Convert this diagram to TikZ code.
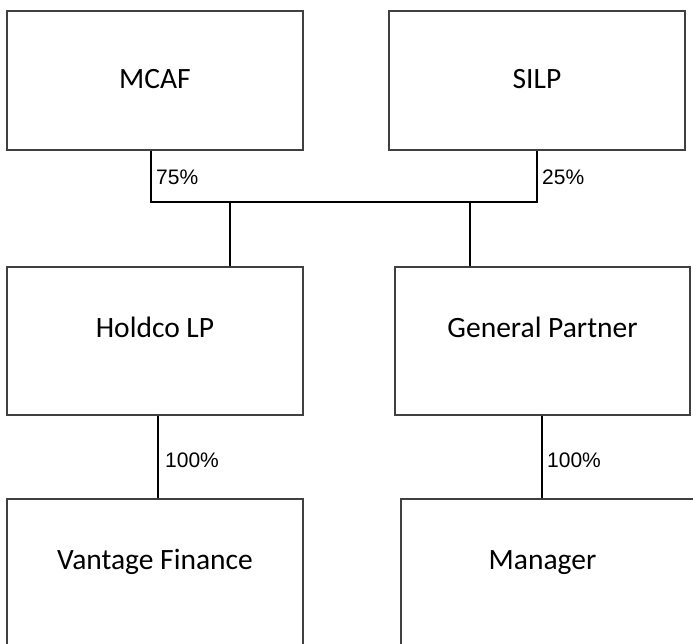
\documentclass[tikz,border=0pt]{standalone}
\usepackage{fontspec}
\setmainfont{Carlito}
\newfontfamily\pctfont{Liberation Sans}
\begin{document}
\begin{tikzpicture}[x=1pt,y=-1pt,
  orgbox/.style={draw=black!75, line width=1.3pt, inner sep=0pt, fill=white},
  boxtext/.style={font=\fontsize{29.5}{31}\selectfont, anchor=base, inner sep=0pt},
  pct/.style={font=\pctfont\fontsize{21}{23}\selectfont, anchor=west, inner sep=1pt},
  link/.style={draw=black, line width=1.5pt}]
\useasboundingbox (0,0) rectangle (693,643);
\clip (0,0) rectangle (693,643);
\fill[white] (0,0) rectangle (693,643);
% boxes
\node[orgbox, minimum width=296pt, minimum height=139pt] (mcaf) at (155,80.5) {};
\node[orgbox, minimum width=296pt, minimum height=139pt] (silp) at (537,80.5) {};
\node[orgbox, minimum width=296pt, minimum height=148pt] (holdco) at (155,341) {};
\node[orgbox, minimum width=295pt, minimum height=148pt] (gp) at (542.5,341) {};
\node[orgbox, minimum width=296pt, minimum height=170pt] (vantage) at (155,584) {};
\node[orgbox, minimum width=310pt, minimum height=170pt] (manager) at (556,584) {};
% box texts
\node[boxtext] (tmcaf) at ([yshift=-78pt]mcaf.north) {MCAF};
\node[boxtext] (tsilp) at ([yshift=-78pt]silp.north) {SILP};
\node[boxtext] (tholdco) at ([yshift=-71pt]holdco.north) {Holdco LP};
\node[boxtext] (tgp) at ([yshift=-71pt]gp.north) {General Partner};
\node[boxtext] (tvantage) at ([yshift=-71pt]vantage.north) {Vantage Finance};
\node[boxtext] at ([yshift=-71pt]vantage.north -| gp.north) (tmanager) {Manager};
% junctions
\coordinate (j1) at (151,202);
\coordinate (j2) at (537,202);
\coordinate (h1) at (230,202);
\coordinate (g1) at (470,202);
\coordinate (v1) at (158,415);
\coordinate (m1) at (542,415);
% connectors
\draw[link] (mcaf.south -| j1) -- (j1) -- (j2) -- (silp.south -| j2);
\draw[link] (h1) -- (holdco.north -| h1);
\draw[link] (g1) -- (gp.north -| g1);
\draw[link] (holdco.south -| v1) -- (vantage.north -| v1);
\draw[link] (gp.south -| m1) -- (manager.north -| m1);
% percentages
\node[pct] (p75) at (155,177) {75\%};
\node[pct] (p25) at (541,177) {25\%};
\node[pct] (p100a) at (164,460) {100\%};
\node[pct] (p100b) at (546,460) {100\%};
\end{tikzpicture}
\end{document}
